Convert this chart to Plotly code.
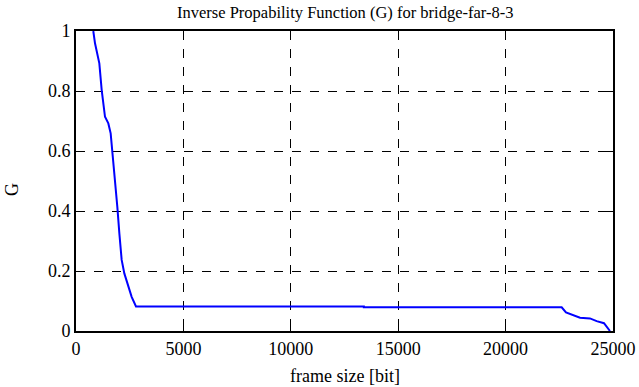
import plotly.graph_objects as go

frame_size = [805, 885, 1086, 1196, 1350, 1505, 1614, 1707, 1816, 1924, 2017, 2126, 2250,
              2436, 2591, 2793, 13400, 13400, 22611, 22811, 23152, 23464, 23929, 24240,
              24581, 24782, 24860]
g_values = [1.0, 0.959, 0.892, 0.803, 0.714, 0.692, 0.659, 0.592, 0.514, 0.414, 0.326, 0.237,
            0.192, 0.148, 0.114, 0.082, 0.082, 0.079, 0.079, 0.062, 0.053, 0.044, 0.042,
            0.033, 0.026, 0.006, 0.0]

x_ticks = [0, 5000, 10000, 15000, 20000, 25000]
y_ticks = [0, 0.2, 0.4, 0.6, 0.8, 1]
y_tick_labels = ["0", "0.2", "0.4", "0.6", "0.8", "1"]

font = "Liberation Serif, Times New Roman, serif"

fig = go.Figure()
fig.add_trace(go.Scatter(x=frame_size, y=g_values, mode="lines",
                         line=dict(color="#0000ff", width=2), showlegend=False,
                         hoverinfo="skip"))

fig.update_layout(
    width=639, height=387,
    margin=dict(l=76, r=26, t=31, b=56, autoexpand=False),
    paper_bgcolor="white", plot_bgcolor="white",
    font=dict(family=font, size=18, color="black"),
)
fig.add_annotation(text="Inverse Propability Function (G) for bridge-far-8-3",
                   xref="paper", yref="paper", x=0.5, y=1 + 19 / 300,
                   xanchor="center", yanchor="middle", showarrow=False,
                   font=dict(family=font, size=16.5))
fig.add_annotation(text="frame size [bit]",
                   xref="paper", yref="paper", x=0.5, y=-45 / 300,
                   xanchor="center", yanchor="middle", showarrow=False,
                   font=dict(family=font, size=18))
fig.add_annotation(text="G", textangle=-90,
                   xref="paper", yref="paper", x=-64 / 537, y=0.47,
                   xanchor="center", yanchor="middle", showarrow=False,
                   font=dict(family=font, size=18))

fig.update_xaxes(range=[0, 25000], tickvals=x_ticks, ticktext=[str(v) for v in x_ticks],
                 showgrid=True, gridcolor="black", griddash="dash", gridwidth=1,
                 showline=True, linecolor="black", linewidth=2, mirror="ticks",
                 ticks="inside", ticklen=7, tickcolor="black", zeroline=False,
                 automargin=False, tickfont=dict(family=font, size=18))
fig.update_yaxes(range=[0, 1], tickvals=y_ticks, ticktext=y_tick_labels,
                 showgrid=True, gridcolor="black", griddash="dash", gridwidth=1,
                 showline=True, linecolor="black", linewidth=2, mirror="ticks",
                 ticks="inside", ticklen=7, tickcolor="black", zeroline=False,
                 automargin=False, tickfont=dict(family=font, size=18))

fig.write_html("out.html", config={"displayModeBar": False},
               post_script="document.body.style.margin='0px';")
